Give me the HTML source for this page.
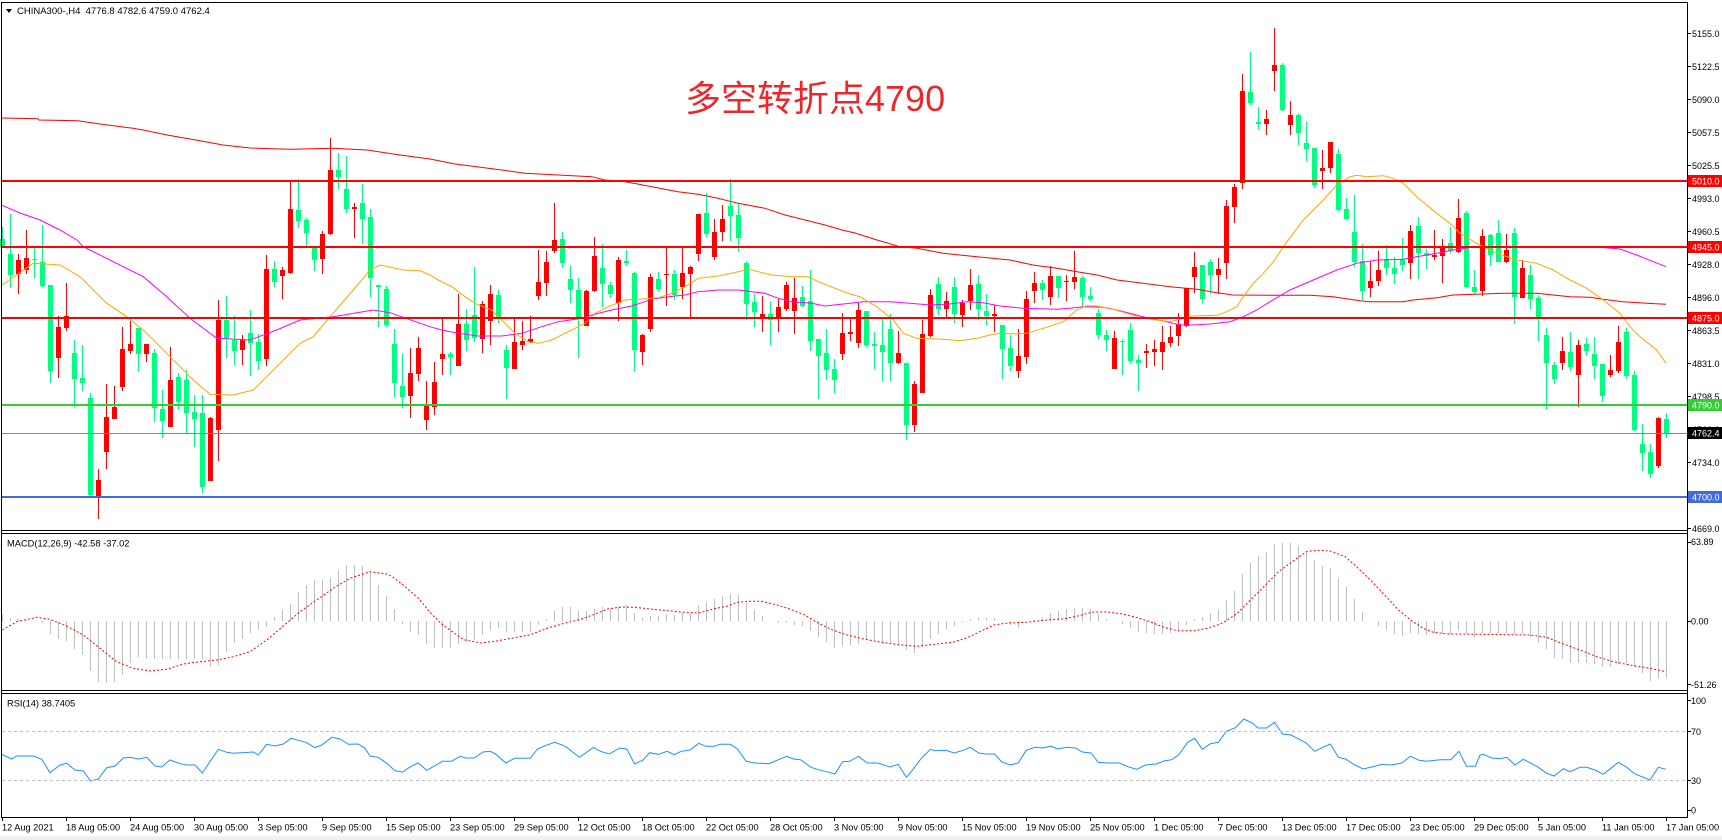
<!DOCTYPE html>
<html><head><meta charset="utf-8">
<style>
html,body{margin:0;padding:0;background:#fff;overflow:hidden}
svg{display:block}
text{font-family:"Liberation Sans","DejaVu Sans",Arial,sans-serif}
</style></head>
<body>
<svg id="c" xmlns="http://www.w3.org/2000/svg" width="1722" height="840" viewBox="0 0 1722 840">
<rect x="0" y="0" width="1722" height="840" fill="#ffffff"/>
<rect x="0" y="836" width="1722" height="4" fill="#f0f0f0"/>
<g id="dyn"></g>
<!-- level lines -->
<g shape-rendering="crispEdges">
<rect x="2" y="180" width="1685" height="2" fill="#ff0000"/>
<rect x="2" y="246" width="1685" height="2" fill="#ff0000"/>
<rect x="2" y="317" width="1685" height="2" fill="#ff0000"/>
<rect x="2" y="404" width="1685" height="2" fill="#32cd32"/>
<rect x="2" y="433" width="1685" height="1" fill="#778899"/>
<rect x="2" y="496" width="1685" height="2" fill="#4169e1"/>
<line x1="2" y1="731.5" x2="1687" y2="731.5" stroke="#c0c0c0" stroke-width="1" stroke-dasharray="3,3"/>
<line x1="2" y1="780.5" x2="1687" y2="780.5" stroke="#c0c0c0" stroke-width="1" stroke-dasharray="3,3"/>
<!-- frames -->
<rect x="1" y="2" width="1" height="816" fill="#000"/>
<rect x="1" y="2" width="1687" height="1" fill="#000"/>
<rect x="1687" y="2" width="1" height="816" fill="#000"/>
<rect x="1" y="530" width="1687" height="1" fill="#000"/>
<rect x="1" y="533" width="1687" height="1" fill="#000"/>
<rect x="1" y="690" width="1687" height="1" fill="#000"/>
<rect x="1" y="693" width="1687" height="1" fill="#000"/>
<rect x="1" y="817" width="1687" height="1" fill="#000"/>
<g id="ticks"></g>
</g>
<!-- header -->
<polygon points="6,9 12,9 9,13" fill="#000"/>
<text x="17" y="14" font-size="9.5" fill="#000" xml:space="preserve">CHINA300-,H4  4776.8 4782.6 4759.0 4762.4</text>
<text x="685" y="111" font-size="36" fill="#ec2629" font-family="'Liberation Sans','Noto Sans CJK SC',sans-serif">多空转折点4790</text>
<text x="7" y="546.5" font-size="9.3" fill="#000">MACD(12,26,9) -42.58 -37.02</text>
<text x="7" y="706.5" font-size="9.3" fill="#000">RSI(14) 38.7405</text>
<!-- price axis labels -->
<g font-size="9" fill="#000">
<text x="1692" y="36.8">5155.0</text>
<text x="1692" y="69.8">5122.5</text>
<text x="1692" y="102.8">5090.0</text>
<text x="1692" y="135.8">5057.5</text>
<text x="1692" y="168.8">5025.5</text>
<text x="1692" y="201.8">4993.0</text>
<text x="1692" y="234.8">4960.5</text>
<text x="1692" y="267.8">4928.0</text>
<text x="1692" y="300.8">4896.0</text>
<text x="1692" y="333.8">4863.5</text>
<text x="1692" y="366.8">4831.0</text>
<text x="1692" y="399.8">4798.5</text>
<text x="1692" y="432.8">4766.0</text>
<text x="1692" y="465.8">4734.0</text>
<text x="1692" y="498.8">4701.5</text>
<text x="1692" y="531.8">4669.0</text>
<text x="1691" y="545.2">63.89</text>
<text x="1691" y="624.5">0.00</text>
<text x="1691" y="687.8">-51.26</text>
<text x="1691" y="703.8">100</text>
<text x="1691" y="734.8">70</text>
<text x="1691" y="783.8">30</text>
<text x="1691" y="813.5">0</text>
</g>
<!-- highlighted price boxes -->
<g font-size="9" fill="#fff">
<rect x="1688" y="175" width="34" height="12" fill="#ff0000"/><text x="1692" y="184.3">5010.0</text>
<rect x="1688" y="241" width="34" height="12" fill="#ff0000"/><text x="1692" y="250.3">4945.0</text>
<rect x="1688" y="312" width="34" height="12" fill="#ff0000"/><text x="1692" y="321.3">4875.0</text>
<rect x="1688" y="399" width="34" height="12" fill="#32cd32"/><text x="1692" y="408.3">4790.0</text>
<rect x="1688" y="427" width="34" height="12" fill="#000000"/><text x="1692" y="436.3">4762.4</text>
<rect x="1688" y="491" width="34" height="12" fill="#4169e1"/><text x="1692" y="500.3">4700.0</text>
</g>
<!-- time axis -->
<g font-size="9.2" fill="#000">
<text x="2" y="830.5">12 Aug 2021</text>
<text x="66" y="830.5">18 Aug 05:00</text>
<text x="130" y="830.5">24 Aug 05:00</text>
<text x="194" y="830.5">30 Aug 05:00</text>
<text x="258" y="830.5">3 Sep 05:00</text>
<text x="322" y="830.5">9 Sep 05:00</text>
<text x="386" y="830.5">15 Sep 05:00</text>
<text x="450" y="830.5">23 Sep 05:00</text>
<text x="514" y="830.5">29 Sep 05:00</text>
<text x="578" y="830.5">12 Oct 05:00</text>
<text x="642" y="830.5">18 Oct 05:00</text>
<text x="706" y="830.5">22 Oct 05:00</text>
<text x="770" y="830.5">28 Oct 05:00</text>
<text x="834" y="830.5">3 Nov 05:00</text>
<text x="898" y="830.5">9 Nov 05:00</text>
<text x="962" y="830.5">15 Nov 05:00</text>
<text x="1026" y="830.5">19 Nov 05:00</text>
<text x="1090" y="830.5">25 Nov 05:00</text>
<text x="1154" y="830.5">1 Dec 05:00</text>
<text x="1218" y="830.5">7 Dec 05:00</text>
<text x="1282" y="830.5">13 Dec 05:00</text>
<text x="1346" y="830.5">17 Dec 05:00</text>
<text x="1410" y="830.5">23 Dec 05:00</text>
<text x="1474" y="830.5">29 Dec 05:00</text>
<text x="1538" y="830.5">5 Jan 05:00</text>
<text x="1602" y="830.5">11 Jan 05:00</text>
<text x="1666" y="830.5">17 Jan 05:00</text>
</g>
</svg>
<script>
(function(){
var s='';
function R(x,y,w,h,f){s+='<rect x="'+x+'" y="'+y+'" width="'+w+'" height="'+h+'" fill="'+f+'" shape-rendering="crispEdges"/>';}
function P(pts,col,extra){s+='<polyline fill="none" stroke="'+col+'" stroke-width="1" points="'+pts.map(function(p){return p[0].toFixed(1)+','+p[1].toFixed(1);}).join(' ')+'" '+(extra||'')+'/>';}
var CG=[
[130,[[0,'g',328,352,290,355],[1,'g',372,435,252,473],[2,'r',390,432,372,492],[3,'r',384,419,300,432],[4,'g',386,390,355,443],[5,'g',395,468,286,470],[6,'g',465,722,465,758],[7,'r',591,684,558,743],[8,'r',558,593,459,603],[9,'g',669,746,630,830],[10,'g',744,758,645,784],[11,'g',804,1095,790,1098],[12,'r',1050,1100,1017,1166],[13,'r',861,965,762,1017],[14,'r',831,866,769,866],[15,'r',657,770,591,783],[16,'r',642,662,573,672],[17,'g',594,673,594,726],[18,'r',642,673,642,697],[19,'g',669,833,657,875],[20,'g',837,872,780,923],[21,'r',750,890,651,890],[22,'g',741,815,729,839],[23,'g',750,849,720,911],[24,'g',846,866,795,950],[25,'g',849,1071,795,1088],[26,'r',864,1052,861,1052],[27,'r',570,899,510,992],[28,'g',570,627,498,684],[29,'g',630,663,558,705],[30,'r',630,660,615,705],[31,'g',609,639,540,738],[32,'g',636,693,612,720],[33,'r',417,687,375,708],[34,'g',417,456,393,471],[35,'r',420,437,411,507],[36,'r',237,429,153,432],[37,'g',240,273,147,294],[38,'g',270,309,264,348],[39,'g',351,390,351,423],[40,'r',312,386,303,432],[41,'r',120,312,24,315],[42,'g',120,141,69,177],[43,'g',177,237,77,249],[44,'r',231,236,219,324],[45,'g',219,266,162,342],[46,'g',261,443,237,500],[47,'g',465,472,465,590],[48,'g',477,585,467,591],[49,'g',642,758,597,801],[50,'g',768,801,672,834],[51,'r',729,797,654,864],[52,'r',654,731,621,753],[53,'r',826,869,753,899]]],
[160,[[54,'r',665,742,606,765],[55,'r',582,596,477,645],[56,'g',582,590,577,645],[57,'r',492,617,402,617],[58,'g',492,540,447,572],[59,'g',465,535,321,545],[60,'r',432,536,422,578],[61,'r',402,482,375,555],[62,'g',405,475,390,490],[63,'g',570,623,555,716],[64,'r',546,626,475,626],[65,'r',543,555,483,570],[66,'r',537,546,468,548],[67,'r',366,408,270,420],[68,'r',306,369,273,408],[69,'r',240,272,129,278],[70,'g',237,308,216,323],[71,'g',357,390,318,428],[72,'g',390,475,354,593],[73,'r',393,497,390,497],[74,'r',288,393,231,396],[75,'g',324,372,252,441],[76,'g',375,402,366,413],[77,'r',300,428,292,483],[78,'g',303,308,270,318],[79,'g',339,570,336,636],[80,'r',524,576,521,615],[81,'r',351,507,342,516],[82,'g',357,387,336,396],[83,'r',342,345,262,438],[84,'g',342,405,330,420],[85,'r',339,381,262,417],[86,'r',321,342,318,472],[87,'r',162,282,162,303],[88,'g',159,222,99,231],[89,'r',216,290,177,299],[90,'r',177,215,135,243],[91,'g',138,167,57,243],[92,'g',165,234,131,276],[93,'g',309,432,303,480],[94,'g',426,455,402,500],[95,'r',462,477,408,516],[96,'g',462,480,423,555],[97,'r',441,473,417,516],[98,'r',375,447,366,453],[99,'r',414,453,354,522],[100,'g',411,437,378,440],[101,'g',423,543,330,573],[102,'g',537,588,537,716],[103,'g',579,630,507,660],[104,'g',627,660,597,699],[105,'r',519,582,459,600],[106,'r',516,521,477,543]]],
[20,[[107,'r',870,968,850,985],[108,'g',873,975,873,980],[109,'g',973,977,935,1047],[110,'g',975,996,897,1083],[111,'g',927,1028,882,1083],[112,'r',999,1028,933,1031],[113,'g',1029,1215,1029,1260],[114,'r',1092,1215,1083,1236],[115,'r',942,1118,900,1118],[116,'r',825,947,807,950],[117,'g',792,866,771,886],[118,'r',843,866,816,890],[119,'g',801,882,771,908],[120,'r',849,884,840,920],[121,'r',795,843,747,870],[122,'g',792,866,765,899],[123,'g',873,887,822,914],[124,'r',882,887,855,935],[125,'g',915,986,915,1076],[126,'g',984,1037,945,1052],[127,'r',1008,1052,928,1073],[128,'r',837,1010,813,1031],[129,'r',789,812,756,848],[130,'g',789,809,780,839],[131,'r',768,830,738,854],[132,'g',768,803,768,833],[133,'r',782,785,765,842],[134,'r',771,785,692,806],[135,'g',774,830,768,860],[136,'g',827,836,800,842],[137,'g',878,945,866,956],[138,'g',945,960,930,993],[139,'r',954,1047,933,1047],[140,'g',962,967,957,1064],[141,'g',930,1023,908,1031],[142,'g',1019,1029,1004,1112],[143,'r',993,1000,971,1043],[144,'r',987,995,960,1037],[145,'r',966,995,918,1049],[146,'r',951,968,918,980],[147,'r',911,947,880,977],[148,'r',804,917,804,920],[149,'r',741,770,696,818],[150,'g',735,836,735,848],[151,'g',726,765,717,821],[152,'r',746,765,714,821],[153,'r',558,728,540,776],[154,'r',501,560,492,608],[155,'r',213,490,162,506],[156,'g',216,248,96,255],[157,'g',306,311,261,330],[158,'r',297,311,270,344],[159,'r',135,152,24,212]]],
[20,[[160,'g',135,270,129,273],[161,'r',286,314,243,345],[162,'g',286,338,279,375],[163,'g',369,386,306,422],[164,'g',384,494,384,503],[165,'r',444,452,390,506],[166,'r',366,443,366,458],[167,'g',402,570,387,573],[168,'g',567,597,534,600],[169,'g',636,725,525,740],[170,'g',722,812,672,839],[171,'r',783,803,723,830],[172,'r',750,782,692,797],[173,'g',717,743,675,764],[174,'g',744,762,711,791],[175,'g',717,734,654,752],[176,'r',633,728,615,776],[177,'g',618,700,591,776],[178,'g',698,708,687,746],[179,'r',705,710,630,719],[180,'r',682,707,656,788],[181,'g',669,693,621,700],[182,'r',594,695,537,698],[183,'g',578,802,573,803],[184,'g',800,815,750,821],[185,'r',648,812,627,827],[186,'g',645,704,641,738],[187,'g',639,725,600,725],[188,'r',689,725,641,728],[189,'g',639,830,624,911],[190,'r',743,833,719,833],[191,'g',765,836,735,868],[192,'g',833,890,824,962],[193,'g',945,1028,924,1169],[194,'g',1035,1076,1025,1091],[195,'r',993,1028,951,1049],[196,'g',996,1040,936,1052],[197,'r',975,1064,960,1160],[198,'g',972,992,954,1007],[199,'g',1002,1037,951,1076],[200,'g',1032,1127,1032,1145],[201,'r',1050,1064,1005,1070],[202,'r',966,1052,918,1058],[203,'g',936,1067,924,1076],[204,'g',1065,1229,1053,1232]]],
[290,[[205,'g',462,488,402,543],[206,'g',486,553,462,563],[207,'r',383,528,380,533],[208,'g',388,430,369,443]]]
];
CG.forEach(function(g){var off=g[0];g[1].forEach(function(c){
 var cx=2+8*c[0];var col=c[1]=='r'?'#ff0000':'#00ff7f';
 var w1=Math.round(off+c[4]/3),w2=Math.round(off+c[5]/3);
 R(cx,w1,1,Math.max(1,w2-w1),col);
 var b1=Math.round(off+Math.min(c[2],c[3])/3),b2=Math.round(off+Math.max(c[2],c[3])/3);
 R(cx-2,b1,5,Math.max(1,b2-b1),col);
});});
var RED=[[2,118],[38,118.7],[39,120],[78,120.7],[100,124],[133,128.3],[143,130],[167,135],[200,140.7],[223,145],[250,148],[280,149],[293,149.3],[333,148.3],[367,150],[400,155],[430,159],[455,164],[502,170],[525,173.3],[558,175],[592,176.7],[605,180],[625,181.7],[652,186.7],[678,191.7],[698,194.3],[718,198.3],[738,203.3],[765,208.3],[785,215],[805,220],[825,225],[842,230],[855,233],[877,240],[900,246.7],[917,248.3],[943,253.3],[977,256.7],[1010,260],[1033,265],[1057,268.3],[1077,271.7],[1097,275],[1117,280],[1143,283.3],[1170,286.7],[1197,289.3],[1217,292.7],[1233,295],[1270,295.3],[1310,295.3],[1333,296.7],[1360,300.7],[1370,301.7],[1403,301.7],[1413,300],[1437,297.7],[1453,295],[1483,294],[1503,293.3],[1537,293.3],[1553,295],[1570,296.7],[1590,297.3],[1603,299.3],[1623,301.7],[1647,303.3],[1666,304.3]];
var MAG=[[2,205.3],[20,213],[40,220],[60,230],[77,240],[83.3,246.7],[143.3,276.7],[166.7,296.7],[190,318.3],[216.7,338.3],[250,340],[276.7,330],[300,320],[333.3,316.7],[373.3,310],[390,312.7],[430,326.7],[441.7,330],[458.3,333.3],[478.3,336],[501.7,336],[521.7,333.3],[541.7,326.7],[558.3,321.7],[581.7,318.3],[591.7,315],[611.7,310],[631.7,306],[641.7,302.7],[651.7,299.3],[668.3,296.7],[685,295],[698.3,291.7],[718.3,290],[738.3,290],[751.7,291.7],[765,293.3],[778.3,298.3],[791.7,301.7],[811.7,303.3],[825,306],[850,303.3],[863.3,301.7],[890,301.7],[910,303.3],[930,305],[950,304],[966.7,301.7],[983.3,302.7],[1000,306],[1023.3,308.3],[1056.7,309.3],[1070,308.3],[1083.3,306.7],[1103.3,307.3],[1116.7,310],[1136.7,315],[1146.7,317.7],[1163.3,321],[1180,325],[1193.3,325],[1210,324],[1230,321.7],[1243.3,316.7],[1256.7,310],[1270,301.7],[1290,290],[1313.3,280],[1336.7,270],[1356.7,263.3],[1376.7,260],[1403.3,259.3],[1416.7,256.7],[1436.7,253.3],[1453.3,250],[1470,247.5],[1483,247],[1550,247],[1600,247.2],[1620,249],[1636.7,255],[1666,266.7]];
var ORG=[[2,285],[33.3,263.3],[60,265],[80,276.7],[106.7,303.3],[126.7,316.7],[143.3,330],[170,356.7],[193.3,380],[210,394.3],[233.3,395],[253.3,390],[266.7,376.7],[283.3,360],[300,343.3],[313.3,336.7],[330,316.7],[353.3,290],[370,270],[380,265],[403.3,270],[420,270.7],[430,275],[438.3,280],[451.7,286.7],[465,296.7],[475,303.3],[491.7,310],[505,323.3],[515,333.3],[528.3,341.7],[538.3,343.3],[551.7,340],[568.3,331.7],[585,323.3],[595,313.3],[608.3,306.7],[625,300],[638.3,299.3],[658.3,297.7],[671.7,293.3],[685,286.7],[698.3,278.3],[718.3,276],[738.3,271.7],[748.3,269.3],[758.3,271.7],[771.7,275],[791.7,276.7],[808.3,276.7],[818.3,281.7],[835,288.3],[850,294],[860,296.7],[876.7,306.7],[893.3,320],[903.3,333.3],[916.7,338.3],[943.3,339.3],[960,340.7],[976.7,338.3],[990,335],[1000,333.3],[1016.7,334],[1026.7,333.3],[1043.3,328.3],[1063.3,321.7],[1076.7,310],[1086.7,305.7],[1096.7,306],[1110,308.3],[1126.7,313.3],[1143.3,318.3],[1170,321.7],[1183.3,318.3],[1193.3,316],[1216.7,315.3],[1226.7,311.7],[1236.7,306.7],[1243.3,296.7],[1253.3,283.3],[1263.3,273.3],[1273.3,262],[1283.3,246.7],[1303.3,220],[1323.3,200],[1336.7,185],[1350,176.7],[1356.7,175.3],[1366.7,176.7],[1383.3,175.7],[1393.3,178.3],[1403.3,183.3],[1416.7,196.7],[1436.7,213.3],[1450,223.3],[1460,233.3],[1476.7,243.3],[1496.7,253.3],[1516.7,260],[1536.7,263.3],[1553.3,270],[1570,280],[1586.7,288.3],[1603.3,300],[1620,313.3],[1630,326.7],[1640,336.7],[1656.7,350],[1666,363.3]];
P(RED,'#ff0000');P(MAG,'#ff00ff');P(ORG,'#ffa500');
// MACD histogram
var H4=[282,294,298,300,303,308,342,357,362,386,405,452,486,489,485,464,428,411,416,417,416,417,417,418,418,418,440,434,395,370,357,338,328,321,291,270,251,215,195,181,180,174,150,135,134,139,155,195,228,268];
var H10=[272,297,305,332,345,345,345,333,326,320,305,290,285,297,297,297,297,276,258,234,222,222,234,234,228,222,228,218,215,240,255,249,249,243,246,240,240,216,207,198,189,183,186,210,231,249,265,270,270,276,278,293,312,327,345,338,336,333,321,321,330,330,333,352,360,342,318,303];
var H11=[287,278,268,258,255,255,255,265,275,285,263,262,252,240,234,228,225,225,228,243,258,265,273,285,297,300,303,303,300,293,276,258,252,240,231,201,174,123,90,69,57,33,30,30,39,57,81,99,105,135,162,198,237,264,279,291,303,309,300,303,306,303,303,306,291,303,312];
var H5=[340,338,338,338,343,343,352,368,388,413,418,428,428,428,432,440,440,433,428,440,460,482,475,475];
var HY=[];
H4.forEach(function(v){HY.push(520+v/3);});
H10.forEach(function(v){HY.push(533+v/3);});
H11.forEach(function(v){HY.push(533+v/3);});
H5.forEach(function(v){HY.push(520+v/3);});
var Z=621;
HY.forEach(function(y,i){var yy=Math.round(y);var h=Math.abs(yy-Z);if(h<1)return;R(2+8*i,Math.min(yy,Z),1,h,'#c0c0c0');});
// MACD signal
var SIG=[[2.3,630],[16.7,621.7],[36.7,617.3],[50,619.3],[66.7,626],[83.3,635],[100,648.3],[116.7,661.7],[133.3,668.3],[150,671],[166.7,669.3],[183.3,664],[200,661.7],[216.7,660],[233.3,656.7],[250,651.7],[266.7,640],[283.3,626],[300,611.7],[316.7,600],[333.3,588.3],[350,578.3],[370,571.7],[386.7,574],[391.8,576.3],[404,585.7],[418.1,598],[432.1,614.7],[442.6,624.7],[453.2,632.3],[463.7,639.7],[481.2,643],[495.3,641.3],[512.8,638],[530.4,634.7],[547.9,628],[565.4,623],[579.5,619.7],[593.5,614.7],[607.5,609],[621.6,607],[635.6,607.3],[649.6,609],[663.7,610.3],[681.2,612],[698.8,613],[712.8,609],[726.8,606.3],[737.4,602.3],[747.9,601.3],[761.9,601.3],[776,604.7],[790,609],[804,614.7],[818.1,623],[832.1,629.7],[846.1,634.7],[863.7,639],[881.2,642.3],[898.8,644.7],[916.3,646.3],[936.8,644],[952.5,642.3],[966.6,638],[980.6,631.3],[994.6,624.7],[1008.7,623],[1026.2,622.3],[1043.8,620.3],[1064.8,618.7],[1078.9,615.7],[1092.9,612],[1106.9,612],[1121,613.7],[1135,617],[1149,621.3],[1163.1,627],[1177.1,630.7],[1194.6,630.7],[1208.7,628],[1222.7,623],[1236.8,613.7],[1250.8,599.7],[1264.8,585.7],[1278.9,571.3],[1292.9,561.3],[1307,551.3],[1321,550.3],[1331.6,551.3],[1345.6,557],[1356.1,566.3],[1370.2,579.7],[1384.2,594.7],[1398.2,609.7],[1412.2,621.3],[1422.8,628],[1433.3,632.3],[1447.4,634],[1480,634.3],[1530,635],[1546.7,637.3],[1563.3,644],[1580,650],[1596.7,656.7],[1613.3,661.7],[1630,665],[1646.7,667.7],[1666.3,671.7]];
P(SIG,'#ff0000','stroke-dasharray="2,2"');
// RSI
function tf(ox,oy,sx,sy,a){return a.map(function(p){return [ox+p[0]/sx,oy+p[1]/sy];});}
var R4=[[5,703],[35,717],[50,708],[100,708],[125,718],[150,758],[180,735],[200,730],[225,750],[250,753],[272,783],[295,777],[320,743],[345,738],[370,714],[390,712],[415,717],[440,712],[465,738],[485,741],[510,720],[540,731],[560,735],[585,735],[607,759],[655,688],[680,697],[700,700],[760,696],[775,705],[800,673],[825,678],[850,672],[873,655],[900,662],[920,668],[945,683],[965,675],[995,652],[1020,657],[1045,673],[1075,672],[1095,685],[1110,708],[1135,712],[1160,730],[1185,752]];
var R10=[[15,713],[35,717],[60,700],[80,690],[105,712],[150,685],[175,685],[200,670],[215,675],[240,675],[265,657],[285,655],[300,662],[330,690],[355,676],[400,676],[420,648],[445,637],[470,628],[500,640],[520,657],[540,673],[580,643],[600,655],[625,663],[655,645],[675,648],[697,693],[720,682],[740,659],[765,664],[790,655],[810,665],[830,655],[855,651],[880,631],[900,640],[925,640],[940,634],[970,634],[990,648],[1015,685],[1040,690],[1080,692],[1130,670],[1150,678],[1170,680],[1200,703],[1220,710],[1245,716],[1268,723],[1290,686],[1310,685],[1335,670],[1360,690],[1390,690],[1425,702],[1448,694],[1472,733],[1490,710],[1515,675],[1540,649]];
var R11=[[0,653],[30,652],[55,660],[80,652],[100,643],[125,660],[145,663],[170,663],[190,687],[215,696],[237,690],[260,652],[285,643],[305,645],[330,640],[350,648],[375,643],[400,645],[420,657],[445,660],[465,688],[490,690],[525,690],[555,703],[575,709],[600,696],[630,693],[655,683],[675,680],[695,665],[720,628],[740,616],[762,649],[785,632],[808,628],[830,595],[855,585],[880,558],[905,570],[920,585],[945,585],[968,568],[990,603],[1015,606],[1040,620],[1058,630],[1082,655],[1105,643],[1127,633],[1150,673],[1170,678],[1195,695],[1220,708],[1245,702],[1275,694],[1300,696],[1330,690],[1355,670],[1380,682],[1400,685],[1440,680],[1470,680],[1493,655],[1515,700],[1540,700]];
var R5=[[0,705],[10,703],[35,714],[60,716],[80,712],[105,735],[130,718],[150,728],[175,742],[200,760],[222,768],[250,746],[270,755],[300,742],[320,742],[345,750],[370,763],[415,727],[440,742],[465,762],[490,772],[510,780],[535,742],[558,748]];
var RS=[].concat(tf(0,520,3,3,R4),tf(390,533,2.85,3,R10),tf(935,533,2.85,3,R11),tf(1480,520,3,3,R5));
var RR=[],lx=-1;RS.forEach(function(p){if(p[0]>lx){RR.push(p);lx=p[0];}});
P(RR,'#1e90ff');
document.getElementById('dyn').innerHTML=s;
// ticks
var t='';
[33.3,66.3,99.3,132.3,165.3,198.3,231.3,264.3,297.3,330.3,363.3,396.3,429.3,462.3,495.3,528.3,541.7,621,684.3,700.3,731.3,780.3,810].forEach(function(y){t+='<rect x="1688" y="'+Math.round(y)+'" width="3" height="1" fill="#000"/>';});
for(var k=0;k<27;k++){t+='<rect x="'+(2+64*k)+'" y="817" width="1" height="4" fill="#000"/>';}
document.getElementById('ticks').innerHTML=t;
})();
</script>
</body></html>
